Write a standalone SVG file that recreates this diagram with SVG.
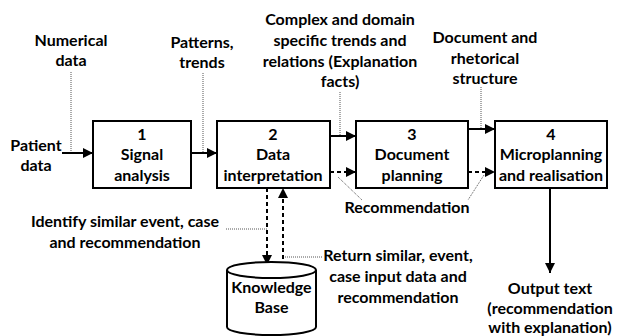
<svg xmlns="http://www.w3.org/2000/svg" width="624" height="336" viewBox="0 0 624 336">
<defs>
<marker id="ah" viewBox="0 0 10 10" refX="10" refY="5" markerWidth="5" markerHeight="5" orient="auto" markerUnits="strokeWidth"><path d="M0,0 L10,5 L0,10 z" fill="#000"/></marker>
<style>
text{font-family:Lato,"Liberation Sans",sans-serif;font-weight:bold;font-size:16px;fill:#000;text-anchor:middle}
.box{fill:#fff;stroke:#000;stroke-width:2}
.sol{stroke:#000;stroke-width:2;fill:none}
.das{stroke:#000;stroke-width:2;fill:none;stroke-dasharray:4,3}
.dot{stroke:#555;stroke-width:1;fill:none;stroke-dasharray:1,1}
</style>
</defs>
<rect width="624" height="336" fill="#fff"/>
<g id="connectors">
<line class="dot" x1="71" y1="72" x2="71" y2="152"/>
<line class="dot" x1="203" y1="73" x2="203" y2="152"/>
<line class="dot" x1="340" y1="92" x2="340" y2="135"/>
<line class="dot" x1="481" y1="87" x2="481" y2="128"/>
<line class="dot" x1="338" y1="177" x2="362" y2="200"/>
<line class="dot" x1="484" y1="175" x2="468" y2="200"/>
<line class="dot" x1="226" y1="229" x2="267" y2="229"/>
<line class="dot" x1="283" y1="257" x2="322" y2="257"/>
<line class="sol" x1="62" y1="153" x2="93" y2="153" marker-end="url(#ah)"/>
<line class="sol" x1="191" y1="153" x2="217" y2="153" marker-end="url(#ah)"/>
<line class="sol" x1="330" y1="136" x2="356" y2="136" marker-end="url(#ah)"/>
<line class="sol" x1="468" y1="129" x2="495" y2="129" marker-end="url(#ah)"/>
<line class="das" x1="330" y1="172" x2="356" y2="172" marker-end="url(#ah)"/>
<line class="das" x1="468" y1="172" x2="495" y2="172" marker-end="url(#ah)"/>
<line class="das" x1="267" y1="188" x2="267" y2="265" marker-end="url(#ah)"/>
<line class="das" x1="283" y1="266" x2="283" y2="188" marker-end="url(#ah)"/>
<line class="sol" x1="550" y1="188" x2="550" y2="273" marker-end="url(#ah)"/>
</g>
<g id="n1"><rect class="box" x="93" y="121" width="98" height="67"/><text x="142" y="140">1</text><text x="142" y="160">Signal</text><text x="142" y="181">analysis</text></g>
<g id="n2"><rect class="box" x="217" y="121" width="113" height="67"/><text x="273" y="140">2</text><text x="273" y="160">Data</text><text x="273" y="181">interpretation</text></g>
<g id="n3"><rect class="box" x="356" y="121" width="112" height="67"/><text x="412" y="140">3</text><text x="412" y="160">Document</text><text x="412" y="181">planning</text></g>
<g id="n4"><rect class="box" x="495" y="121" width="112" height="67"/><text x="551" y="140">4</text><text x="551" y="160">Microplanning</text><text x="551" y="181">and realisation</text></g>
<g id="kb"><path class="box" d="M227,270 L227,327 A44.5,8 0 0 0 316,327 L316,270"/><ellipse class="box" cx="271.5" cy="270" rx="44.5" ry="8"/><text x="271.5" y="293">Knowledge</text><text x="271.5" y="313">Base</text></g>
<g id="labels">
<text x="36" y="151">Patient</text><text x="36" y="171">data</text>
<text x="71" y="46">Numerical</text><text x="71" y="66">data</text>
<text x="202" y="48">Patterns,</text><text x="202" y="68">trends</text>
<text x="340" y="25">Complex and domain</text><text x="340" y="46">specific trends and</text><text x="340" y="67">relations (Explanation</text><text x="340" y="87">facts)</text>
<text x="485" y="43">Document and</text><text x="485" y="64">rhetorical</text><text x="485" y="84">structure</text>
<text x="407" y="213">Recommendation</text>
<text x="125" y="227">Identify similar event, case</text><text x="125" y="248">and recommendation</text>
<text x="398" y="261">Return similar, event,</text><text x="398" y="282">case input data and</text><text x="398" y="303">recommendation</text>
<text x="550" y="294">Output text</text><text x="550" y="314">(recommendation</text><text x="550" y="333">with explanation)</text>
</g>
</svg>
